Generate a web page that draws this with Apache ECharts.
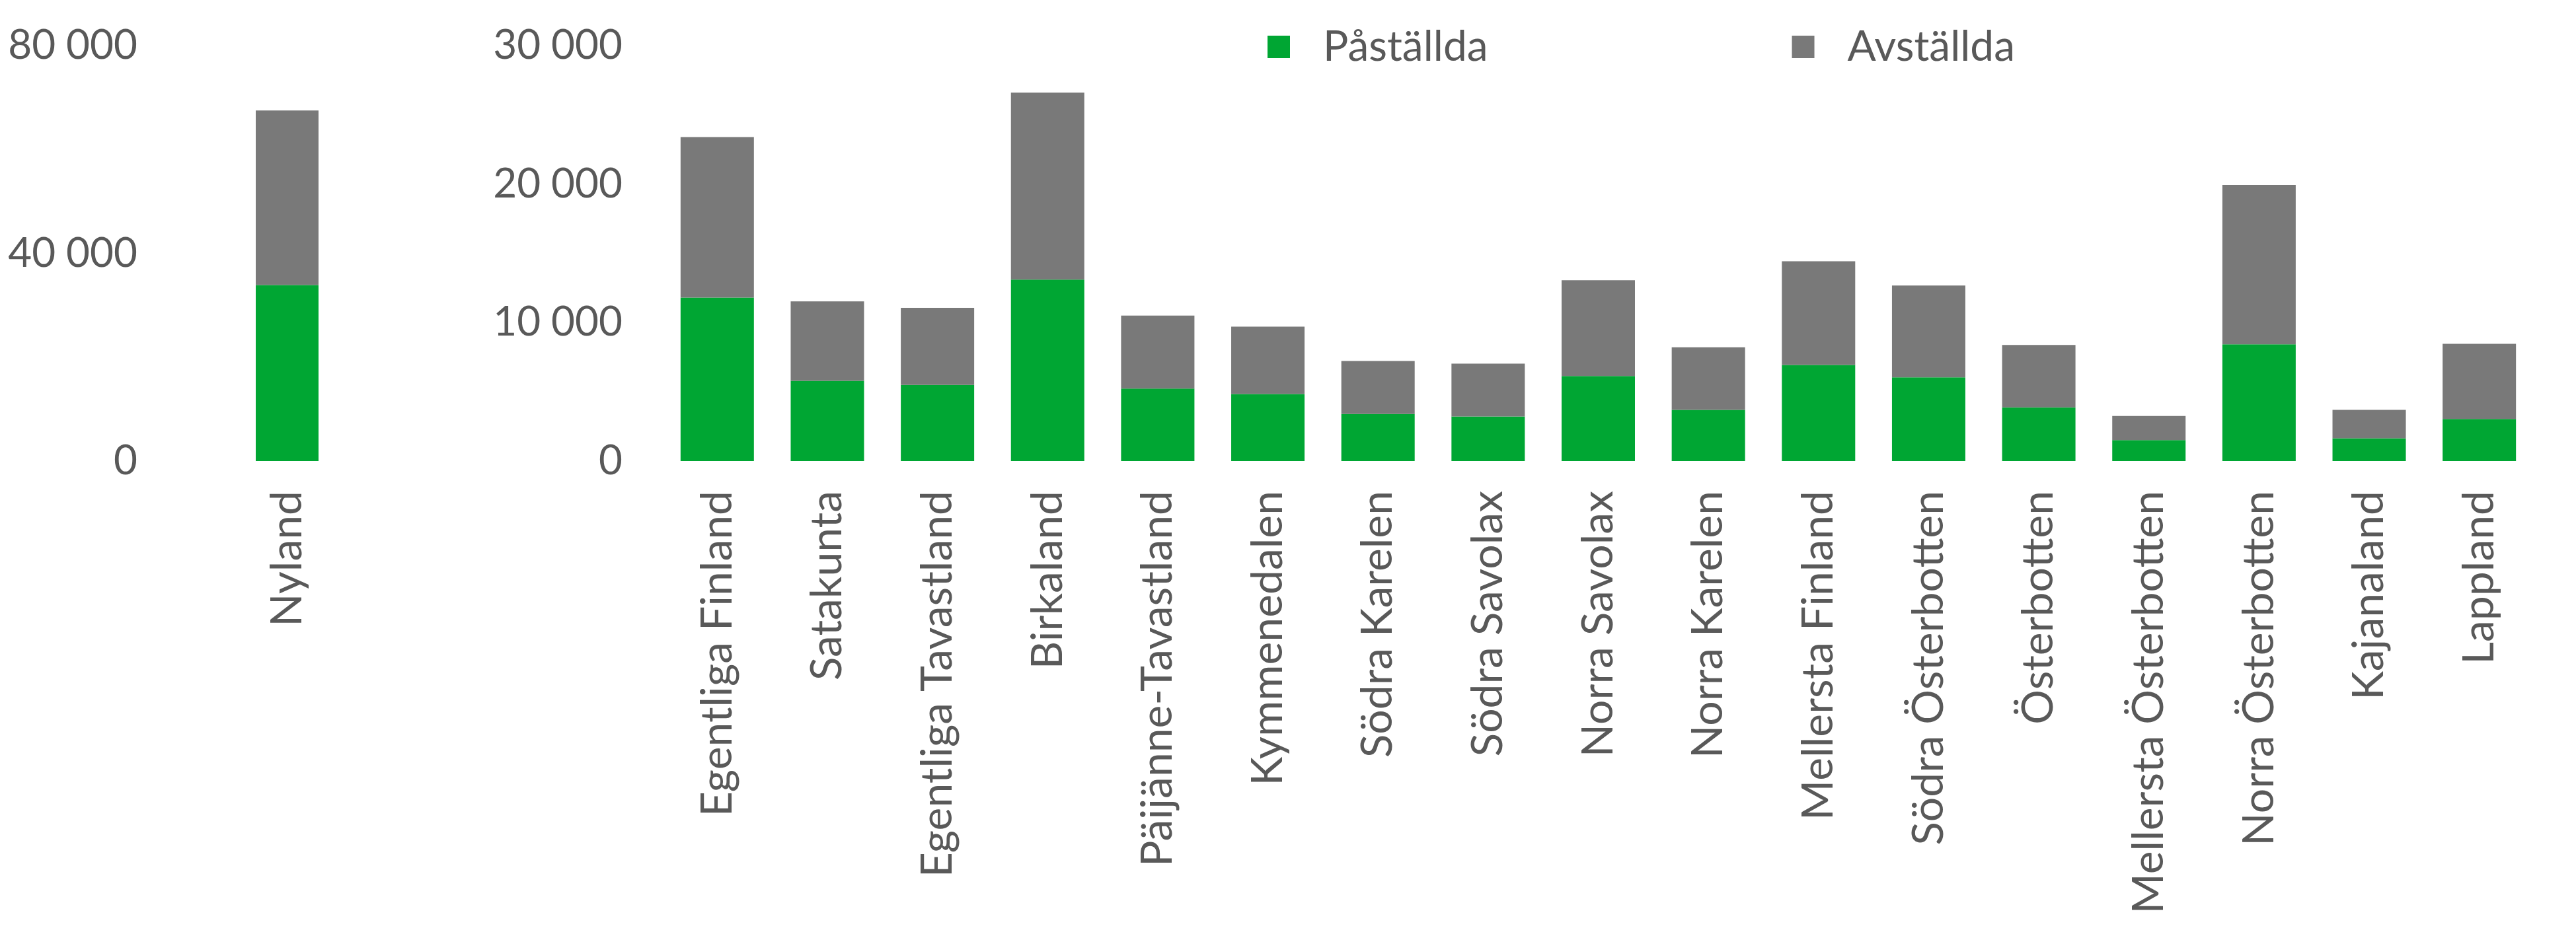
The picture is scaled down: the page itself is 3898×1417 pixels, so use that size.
<!DOCTYPE html>
<html>
<head>
<meta charset="utf-8">
<script src="https://cdn.jsdelivr.net/npm/echarts@6/dist/echarts.min.js"></script>
<style>
html,body{margin:0;padding:0;background:#fff;}
#chart{width:3898px;height:1417px;}
</style>
</head>
<body>
<div id="chart"></div>
<script>
const seriesNames = ['Påställda', 'Avställda'];
const leftCategories = ['Nyland'];
const leftPastallda = [33900];
const leftAvstallda = [33600];
const rightCategories = ['Egentliga Finland','Satakunta','Egentliga Tavastland','Birkaland','Päijänne-Tavastland','Kymmenedalen','Södra Karelen','Södra Savolax','Norra Savolax','Norra Karelen','Mellersta Finland','Södra Österbotten','Österbotten','Mellersta Österbotten','Norra Österbotten','Kajanaland','Lappland'];
const rightPastallda = [11800,5800,5500,13100,5230,4840,3400,3220,6140,3700,6940,6050,3880,1510,8430,1640,3040];
const rightAvstallda = [11600,5730,5570,13500,5270,4860,3820,3820,6920,4520,7490,6620,4500,1750,11510,2060,5430];
const leftTicks = [0, 40000, 80000];
const rightTicks = [0, 10000, 20000, 30000];

const FONT = 'Lato';
const TXT = '#595959';
const GREEN = '#00A633';
const GRAY = '#797979';
const fmt = v => String(v).replace(/\B(?=(\d{3})+(?!\d))/g, ' ');

const chart = echarts.init(document.getElementById('chart'), null, {renderer: 'canvas'});
const xCommon = {
  type: 'category',
  axisLine: {show: false},
  axisTick: {show: false},
  axisLabel: {rotate: 90, margin: 45, color: TXT, fontFamily: FONT, fontSize: 66}
};
const yCommon = {
  type: 'value',
  splitLine: {show: false},
  axisLine: {show: false},
  axisTick: {show: false},
  axisLabel: {margin: 60, color: TXT, fontFamily: FONT, fontSize: 62, formatter: fmt}
};
chart.setOption({
  animation: false,
  backgroundColor: '#ffffff',
  legend: {
    data: seriesNames,
    left: 1913,
    top: 34,
    itemWidth: 34,
    itemHeight: 34,
    itemGap: 460,
    icon: 'rect',
    textStyle: {color: TXT, fontFamily: FONT, fontSize: 64, padding: [0, 0, 0, 45]}
  },
  grid: [
    {left: 268, width: 333, top: 69, bottom: 719},
    {left: 1002, right: 63, top: 69, bottom: 719}
  ],
  xAxis: [
    Object.assign({}, xCommon, {gridIndex: 0, data: leftCategories}),
    Object.assign({}, xCommon, {gridIndex: 1, data: rightCategories})
  ],
  yAxis: [
    Object.assign({}, yCommon, {gridIndex: 0, min: leftTicks[0], max: leftTicks[leftTicks.length-1], interval: leftTicks[1]-leftTicks[0]}),
    Object.assign({}, yCommon, {gridIndex: 1, min: rightTicks[0], max: rightTicks[rightTicks.length-1], interval: rightTicks[1]-rightTicks[0]})
  ],
  series: [
    {name: seriesNames[0], type: 'bar', stack: 'L', xAxisIndex: 0, yAxisIndex: 0, barWidth: 95, itemStyle: {color: GREEN}, data: leftPastallda},
    {name: seriesNames[1], type: 'bar', stack: 'L', xAxisIndex: 0, yAxisIndex: 0, barWidth: 95, itemStyle: {color: GRAY}, data: leftAvstallda},
    {name: seriesNames[0], type: 'bar', stack: 'R', xAxisIndex: 1, yAxisIndex: 1, barWidth: 111, itemStyle: {color: GREEN}, data: rightPastallda},
    {name: seriesNames[1], type: 'bar', stack: 'R', xAxisIndex: 1, yAxisIndex: 1, barWidth: 111, itemStyle: {color: GRAY}, data: rightAvstallda}
  ]
});
</script>
</body>
</html>
